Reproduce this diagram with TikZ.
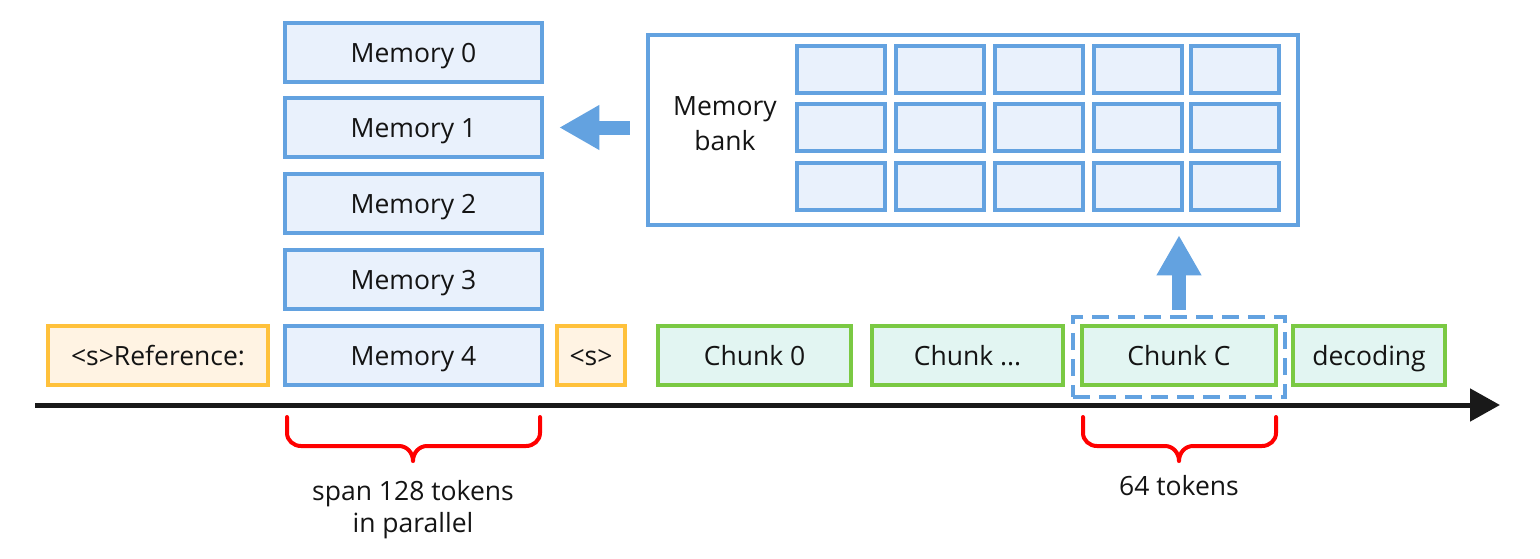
\documentclass[tikz,border=0pt]{standalone}
\usepackage{fontspec}
\setmainfont{Open Sans}
\usetikzlibrary{arrows.meta}
\definecolor{bblue}{HTML}{63A2E0}
\definecolor{fblue}{HTML}{E9F1FC}
\definecolor{borange}{HTML}{FFC13B}
\definecolor{forange}{HTML}{FFF3E3}
\definecolor{bgreen}{HTML}{7AC943}
\definecolor{fgreen}{HTML}{E2F5F2}
\definecolor{txt}{HTML}{141414}
\tikzset{
  every node/.style={font=\fontsize{26.5}{35}\selectfont, text=txt},
  boxtxt/.style={text height=19pt, text depth=0pt},
  membox/.style={boxtxt, draw=bblue, fill=fblue, line width=4.5pt, minimum width=257pt, minimum height=59pt, inner sep=0pt},
  orbox/.style={boxtxt, draw=borange, fill=forange, line width=4.5pt, minimum height=59pt, inner sep=0pt},
  grbox/.style={boxtxt, draw=bgreen, fill=fgreen, line width=4.5pt, minimum height=59pt, inner sep=0pt},
  cell/.style={draw=bblue, fill=fblue, line width=4pt, minimum width=88pt, minimum height=47pt, inner sep=0pt},
  bigarrow/.style={draw=bblue, line width=14pt, -{Triangle[length=40pt,width=42pt]}},
  bracepath/.style={draw=red, line width=4pt, line cap=round, line join=round},
}
\begin{document}
\begin{tikzpicture}[x=1pt,y=-1pt]
\useasboundingbox (0,0) rectangle (1540,558);
% memory stack
\node[membox] (m0) at (413.5,52.5) {Memory 0};
\node[membox] (m1) at (413.5,127.5) {Memory 1};
\node[membox] (m2) at (413.5,203.5) {Memory 2};
\node[membox] (m3) at (413.5,279.5) {Memory 3};
\node[membox] (m4) at (413.5,355.5) {Memory 4};
% sequence
\node[orbox, minimum width=220pt] (ref) at (158,355.5) {<s>Reference:};
\node[orbox, minimum width=68pt] (s) at (591,355.5) {<s>};
\node[grbox, minimum width=193pt] (c0) at (754.5,355.5) {Chunk 0};
\node[grbox, minimum width=191pt] (cd) at (967.5,355.5) {Chunk ...};
\node[grbox, minimum width=194pt] (cc) at (1179,355.5) {Chunk C};
\node[grbox, minimum width=152pt] (dec) at (1369,355.5) {decoding};
\node[draw=bblue, line width=4pt, dash pattern=on 17pt off 9pt, minimum width=212pt, minimum height=80pt, inner sep=0pt] (dash) at (1179,357) {};
% memory bank
\node[draw=bblue, fill=white, line width=4.5pt, minimum width=650pt, minimum height=190pt, inner sep=0pt] (bank) at (973,130) {};
\node[anchor=base] (banklbl1) at (725,115) {Memory};
\node[anchor=base] (banklbl2) at (725,150) {bank};
\foreach \cx [count=\i] in {841,940,1039,1138,1235}{
  \foreach \cy [count=\j] in {69.5,127.5,186.5}{
    \node[cell] (cell\i\j) at (\cx,\cy) {};
  }
}
% arrows
\draw[bigarrow, shorten <=16pt, shorten >=15pt] (bank.west |- m1.east) -- (m1.east);
\draw[bigarrow, shorten <=5pt, shorten >=8pt] (dash.north) -- (dash.north |- bank.south);
% axis
\coordinate (axs) at (35,405);
\coordinate (axe) at (1500,405);
\draw[line width=5pt, -{Triangle[length=30pt,width=32pt]}, draw=black!90] (axs) -- (axe);
% braces
\draw[bracepath] (287,417) -- (287,433) to[out=-90,in=180] (301,446) -- (399,446) to[out=0,in=90] (413,461)
  (413,461) to[out=90,in=180] (427,446) -- (526,446) to[out=0,in=-90] (540,433) -- (540,417);
\draw[bracepath] (1083,417) -- (1083,433) to[out=-90,in=180] (1097,446) -- (1165,446) to[out=0,in=90] (1179,461)
  (1179,461) to[out=90,in=180] (1193,446) -- (1262,446) to[out=0,in=-90] (1276,433) -- (1276,417);
\node[anchor=base] (l1a) at (413,500) {span 128 tokens};
\node[anchor=base] (l1b) at (413,532) {in parallel};
\node[anchor=base] (l2) at (1179,495) {64 tokens};
\end{tikzpicture}
\end{document}
